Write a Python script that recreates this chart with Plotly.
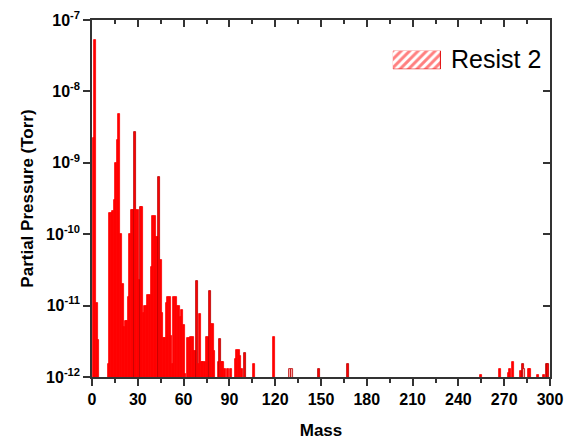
import plotly.graph_objects as go

# ---- data ----
mass = [1, 2, 3, 4, 11, 12, 13, 14, 15, 16, 17, 18, 19, 20, 21, 22, 23, 24, 25, 26,
        27, 28, 29, 30, 31, 32, 33, 34, 35, 36, 37, 38, 39, 40, 41, 42, 43, 44, 45, 46,
        47, 48, 49, 50, 51, 52, 53, 54, 55, 56, 57, 58, 59, 60, 61, 63, 64, 65, 66, 67,
        68, 69, 70, 71, 72, 73, 74, 75, 76, 77, 78, 79, 80, 83, 84, 85, 86, 87, 89, 91,
        94, 95, 96, 97, 98, 100, 106, 119, 130, 131, 149, 168, 255, 267, 273, 274, 276,
        281, 282, 283, 286, 287, 292, 296, 298, 299]
pressure = [2.2e-9, 5.3e-8, 1.1e-11, 3.3e-12, 1.5e-12, 2.0e-10, 2.0e-10, 2.1e-10, 3.0e-10, 1.0e-9,
            2.1e-9, 4.8e-9, 1.0e-10, 2.0e-11, 5.0e-12, 6.0e-12, 6.0e-12, 1.3e-11, 1.0e-10, 2.2e-10,
            2.2e-10, 2.7e-9, 2.2e-10, 2.2e-10, 2.3e-11, 2.4e-10, 2.4e-10, 8.0e-12, 1.0e-11, 1.0e-11,
            1.4e-11, 1.4e-11, 3.5e-11, 1.8e-10, 1.8e-10, 9.0e-11, 9.0e-11, 6.4e-10, 4.4e-11, 8.0e-12,
            3.5e-12, 3.5e-12, 1.1e-11, 1.3e-11, 1.3e-11, 3.7e-12, 1.5e-12, 1.3e-11, 1.3e-11, 1.0e-11,
            1.0e-11, 7.0e-12, 8.7e-12, 5.3e-12, 1.1e-12, 3.5e-12, 3.5e-12, 3.6e-12, 3.6e-12, 2.3e-12,
            2.3e-12, 2.2e-11, 1.5e-12, 7.6e-12, 1.6e-12, 1.6e-12, 1.6e-12, 3.6e-12, 3.6e-12, 1.6e-11,
            5.6e-12, 5.6e-12, 2.3e-12, 1.6e-12, 3.4e-12, 1.6e-12, 1.6e-12, 1.3e-12, 1.3e-12, 1.3e-12,
            1.8e-12, 2.4e-12, 2.4e-12, 2.0e-12, 1.3e-12, 2.2e-12, 1.5e-12, 3.6e-12, 1.3e-12, 1.3e-12,
            1.3e-12, 1.5e-12, 1.05e-12, 1.3e-12, 1.15e-12, 1.3e-12, 1.6e-12,
            1.2e-12, 1.5e-12, 1.3e-12, 1.3e-12, 1.3e-12, 1.05e-12, 1.05e-12, 1.5e-12, 1.5e-12]

x_tick_values = [0, 30, 60, 90, 120, 150, 180, 210, 240, 270, 300]
y_tick_values = [1e-12, 1e-11, 1e-10, 1e-9, 1e-8, 1e-7]
y_tick_labels = ["10<sup>-12</sup>", "10<sup>-11</sup>", "10<sup>-10</sup>",
                 "10<sup>-9</sup>", "10<sup>-8</sup>", "10<sup>-7</sup>"]
series_name = "Resist 2"

# ---- styles ----
RED = "#ff0000"
DARK = "#b80000"
dark_edge = {28, 32, 44, 69, 77, 84, 100, 149, 168, 282, 298, 299}
pale = {130, 131, 283}
fills = ["#ffb0b0" if m in pale else RED for m in mass]
edges = [DARK if (m in dark_edge or m in pale) else RED for m in mass]
AX = "#333333"
FONT = "Liberation Sans, Arial, sans-serif"

fig = go.Figure()
fig.add_trace(go.Bar(
    x=mass, y=pressure, width=1.3, offset=-0.65,
    marker=dict(color=fills, line=dict(color=edges, width=0.8)),
    name=series_name, showlegend=False,
))
# helper trace for mirrored (inside) ticks on top / right
fig.add_trace(go.Scatter(x=[None], y=[None], xaxis="x2", yaxis="y2",
                         showlegend=False, hoverinfo="skip"))
# legend swatch (hatched box)
fig.add_trace(go.Bar(
    x=[0], y=[1], width=1, xaxis="x3", yaxis="y3", showlegend=False,
    marker=dict(color="white", line=dict(color="#e00000", width=1),
                pattern=dict(shape="/", fgcolor="#ff0000", bgcolor="white",
                             size=6, solidity=0.5)),
))

common_x = dict(range=[0, 300], tickvals=x_tick_values, showgrid=False, zeroline=False,
                showline=True, linecolor=AX, linewidth=1.5, tickcolor=AX, tickwidth=1.5,
                automargin=False)
common_y = dict(type="log", range=[-12, -7], tickvals=y_tick_values, showgrid=False,
                zeroline=False, showline=True, linecolor=AX, linewidth=1.5,
                tickcolor=AX, tickwidth=1.5, automargin=False)

fig.update_layout(
    width=566, height=443,
    margin=dict(l=92, r=16, t=20, b=66, autoexpand=False),
    paper_bgcolor="white", plot_bgcolor="white",
    font=dict(family=FONT, color="black"),
    bargap=0, barmode="overlay",
    xaxis=dict(**common_x, ticks="outside", ticklen=7,
               minor=dict(tickvals=list(range(15, 300, 30)), ticks="outside",
                          ticklen=4, tickcolor=AX, tickwidth=1.5),
               tickfont=dict(size=16, weight="bold", family=FONT),
               title=dict(text="Mass", font=dict(size=17, weight="bold", family=FONT),
                          standoff=17)),
    yaxis=dict(**common_y, ticktext=y_tick_labels, ticks="outside", ticklen=7,
               tickfont=dict(size=16, weight="bold", family=FONT),
               title=dict(text="Partial Pressure (Torr)",
                          font=dict(size=17, weight="bold", family=FONT), standoff=8)),
    xaxis2=dict(**common_x, overlaying="x", side="top", anchor="y", ticks="inside",
                ticklen=7, showticklabels=False,
                minor=dict(tickvals=list(range(15, 300, 30)), ticks="inside",
                           ticklen=4, tickcolor=AX, tickwidth=1.5)),
    yaxis2=dict(**common_y, overlaying="y", side="right", anchor="x", ticks="inside",
                ticklen=7, showticklabels=False),
    xaxis3=dict(domain=[0.657, 0.762], anchor="y3", range=[-0.5, 0.5], visible=False),
    yaxis3=dict(domain=[0.862, 0.914], anchor="x3", range=[0, 1], visible=False),
    annotations=[dict(text=series_name, xref="paper", yref="paper", x=0.78, y=0.89,
                      xanchor="left", yanchor="middle", showarrow=False,
                      font=dict(size=25, family=FONT, color="black"))],
)

fig.write_html("out.html")
